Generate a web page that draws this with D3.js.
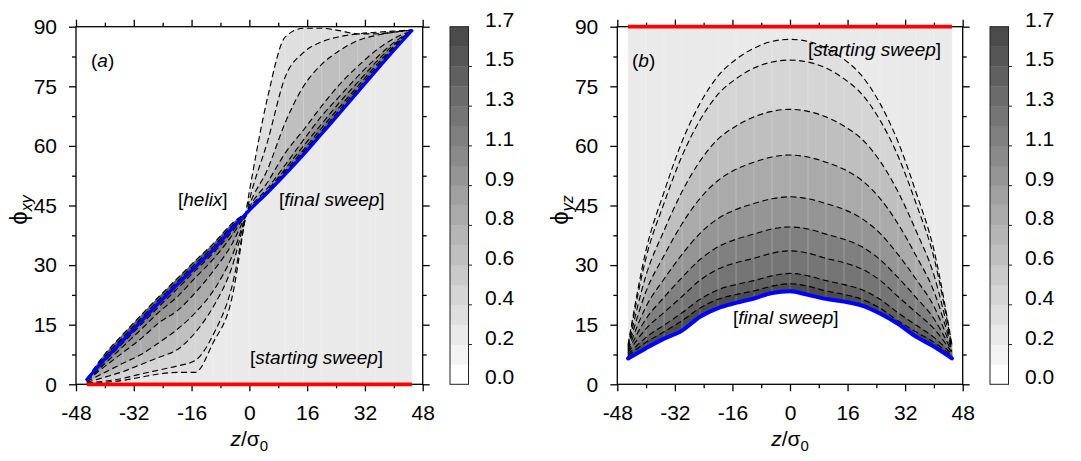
<!DOCTYPE html>
<html><head><meta charset="utf-8">
<script src="https://cdn.jsdelivr.net/npm/d3@7"></script>
<style>
body{margin:0;background:#fff}
svg{display:block}
text{font-family:"Liberation Sans",Arial,Helvetica,sans-serif;fill:#000}
</style>
</head><body>
<svg id="chart" width="1081" height="461"></svg>
<script>
// ---------- data ----------
const zGrid = [-45,-40,-35,-30,-25,-20,-15,-10,-5,0,5,10,15,20,25,30,35,40,45];
const zTicks = [-48,-32,-16,0,16,32,48];
const zMinor = [-40,-24,-8,8,24,40];
const phiTicks = [0,15,30,45,60,75,90];
const phiMinor = [7.5,22.5,37.5,52.5,67.5,82.5];
const cbLabels = ["0.0","0.2","0.4","0.6","0.8","0.9","1.1","1.3","1.5","1.7"];
const cbMax = 1.7;
const cbBands = 18;

// panel (a): phi_xy(z) for each sweep
const aStart = [0,0,0,0,0,0,0,0,0,0,0,0,0,0,0,0,0,0,0];
const aFinal = [1.2,6.3,11.0,15.8,20.5,25.0,29.5,33.8,39.0,43.8,48.2,52.9,57.8,63.0,68.2,73.5,78.8,84.0,89.0];
const aSweep1 = [0.2,0.5,1.0,1.8,2.6,3.0,3.0,10.5,21.0,48.5,72.0,87.5,89.6,89.6,89.0,88.2,88.2,88.6,89.2];
const aSweep2 = [0.3,0.8,1.5,2.6,3.6,4.6,6.0,12.5,24.0,46.3,61.0,77.5,83.5,86.2,87.5,88.2,88.6,88.9,89.2];
const aSweep3 = [0.5,1.8,3.2,5.0,6.8,8.7,13.0,19.5,29.0,45.1,54.0,66.0,75.0,80.5,84.0,86.5,87.8,88.6,89.1];
const aSweep4 = [0.7,3.0,5.3,7.5,10.5,13.8,18.0,23.5,31.8,44.4,50.8,58.3,64.0,70.0,75.5,80.0,84.0,87.0,89.0];
const aSweep5 = [0.9,4.5,8.0,11.5,15.5,18.5,23.0,28.5,35.0,44.1,49.3,55.3,61.5,67.5,72.5,77.5,82.0,86.0,89.0];
const aSweep6 = [1.0,5.2,9.5,13.8,18.2,22.0,26.8,31.5,37.2,44.0,48.8,54.3,60.0,65.5,71.0,76.0,81.0,85.5,89.0];
const aSweep7 = [1.1,5.8,10.4,15.0,19.6,24.0,28.6,33.0,38.2,43.9,48.5,53.7,59.0,64.5,69.8,75.0,80.2,85.0,89.0];
const aSweep8 = [1.4,7.6,12.6,17.4,22.1,26.6,31.1,35.4,40.3,43.9,48.4,53.3,58.5,63.8,69.1,74.4,79.6,84.6,89.0];
const aSweep9 = [1.3,7.0,11.8,16.6,21.3,25.8,30.3,34.6,39.7,43.8,48.3,53.1,58.1,63.3,68.5,73.8,79.1,84.2,89.0];
const aLevels = [0.3,0.42,0.6,0.8,0.98,1.15,1.3,1.45,1.62];
const aBaseLevel = 0.2;

// panel (b): phi_yz(z) for each sweep
const bStart = [90,90,90,90,90,90,90,90,90,90,90,90,90,90,90,90,90,90,90];
const bFinal = [6.5,9.1,11.5,13.5,17.0,19.2,20.5,21.6,23.0,23.4,22.5,21.5,20.8,19.8,17.8,15.2,12.0,9.5,6.5];
const bSweep1 = [10.0,33.8,48.4,61.1,70.7,77.6,81.8,84.6,86.3,86.8,86.3,84.6,81.8,77.6,70.7,61.1,48.4,33.8,10.0];
const bSweep2 = [9.6,31.9,45.6,57.5,66.5,73.0,76.9,79.6,81.1,81.6,81.1,79.6,76.9,73.0,66.5,57.5,45.6,31.9,9.6];
const bSweep3 = [9.3,27.5,38.7,48.5,56.2,61.7,65.0,67.3,68.7,69.2,68.7,67.3,65.0,61.7,56.2,48.5,38.7,27.5,9.3];
const bSweep4 = [9.0,23.4,32.4,40.4,46.8,51.3,54.1,55.9,57.2,57.7,57.2,55.9,54.1,51.3,46.8,40.4,32.4,23.4,9.0];
const bSweep5 = [8.7,19.6,26.5,32.7,38.0,41.7,44.0,45.5,46.7,47.2,46.7,45.5,44.0,41.7,38.0,32.7,26.5,19.6,8.7];
const bSweep6 = [8.3,16.5,21.9,26.9,31.4,34.6,36.5,37.8,39.1,39.6,39.1,37.8,36.5,34.6,31.4,26.9,21.9,16.5,8.3];
const bSweep7 = [8.0,14.0,18.1,22.1,26.2,29.0,30.6,31.7,33.0,33.6,33.0,31.7,30.6,29.0,26.2,22.1,18.1,14.0,8.0];
const bSweep8 = [7.6,11.8,14.9,18.0,21.4,23.8,25.1,26.1,27.3,27.9,27.3,26.1,25.1,23.8,21.4,18.0,14.9,11.8,7.6];
const bSweep9 = [7.2,10.6,13.2,16.0,19.2,21.4,22.6,23.5,24.7,25.3,24.7,23.5,22.6,21.4,19.2,16.0,13.2,10.6,7.2];
const bLevels = [0.3,0.42,0.6,0.8,0.98,1.15,1.3,1.45,1.62];
const bBaseLevel = 0.2;

// ---------- drawing ----------
const svg = d3.select("#chart");
const grays = d3.range(cbBands).map(k => { const g = Math.round(255 - 10.6 * k); return `rgb(${g},${g},${g})`; });
const color = d3.scaleQuantize().domain([0, cbMax]).range(grays);
const FS = 21;

function panel(o) {
  const x = d3.scaleLinear().domain([-48, 48]).range([o.left, o.right]);
  const y = d3.scaleLinear().domain([0, 90]).range([o.bottom, o.top]);
  const g = svg.append("g");
  const idx = zGrid.map((z, i) => i);
  const area = (lo, hi) => d3.area()
    .x(i => x(zGrid[i])).y0(i => y(lo[i])).y1(i => y(hi[i]))
    .curve(d3.curveMonotoneX);
  const line = arr => d3.line().x(i => x(zGrid[i])).y(i => y(arr[i])).curve(d3.curveMonotoneX);

  // base fill between start sweep and final sweep
  g.append("path").attr("d", area(o.start, o.final)(idx))
    .attr("fill", color(o.baseLevel)).attr("stroke", color(o.baseLevel)).attr("stroke-width", 0.5);
  // density fills: each intermediate sweep to the final sweep
  o.sweeps.forEach((s, k) => {
    g.append("path").attr("d", area(o.final, s)(idx))
      .attr("fill", color(o.levels[k])).attr("stroke", color(o.levels[k])).attr("stroke-width", 0.4);
  });
  // faint pm3d column lines inside the filled region
  const clipId = "clip" + o.tag;
  const cp = svg.append("clipPath").attr("id", clipId);
  cp.append("path").attr("d", area(o.start, o.final)(idx));
  o.sweeps.forEach(s => cp.append("path").attr("d", area(o.final, s)(idx)));
  g.append("g").attr("clip-path", `url(#${clipId})`)
    .selectAll("line").data(zGrid.slice(1, -1)).join("line")
    .attr("x1", d => x(d)).attr("x2", d => x(d)).attr("y1", o.top).attr("y2", o.bottom)
    .attr("stroke", "#fff").attr("stroke-opacity", 0.3).attr("stroke-width", 0.8);

  // axes
  const styleAxis = sel => {
    sel.select(".domain").remove();
    sel.selectAll("line").attr("stroke", "#000").attr("stroke-width", 1.3);
    sel.selectAll("text").attr("font-size", FS).attr("font-family", '"Liberation Sans",Arial,sans-serif').attr("fill", "#000");
  };
  const fmt = d => String(d);
  g.append("g").attr("transform", `translate(0,${o.bottom})`)
    .call(d3.axisBottom(x).tickValues(zTicks).tickSize(7).tickPadding(14).tickFormat(fmt)).call(styleAxis);
  g.append("g").attr("transform", `translate(0,${o.bottom})`)
    .call(d3.axisBottom(x).tickValues(zMinor).tickSize(4).tickFormat("")).call(styleAxis);
  g.append("g").attr("transform", `translate(0,${o.top})`)
    .call(d3.axisTop(x).tickValues(zTicks).tickSize(7).tickFormat("")).call(styleAxis);
  g.append("g").attr("transform", `translate(0,${o.top})`)
    .call(d3.axisTop(x).tickValues(zMinor).tickSize(4).tickFormat("")).call(styleAxis);
  g.append("g").attr("transform", `translate(${o.left},0)`)
    .call(d3.axisLeft(y).tickValues(phiTicks).tickSize(7).tickPadding(12).tickFormat(fmt)).call(styleAxis);
  g.append("g").attr("transform", `translate(${o.left},0)`)
    .call(d3.axisLeft(y).tickValues(phiMinor).tickSize(4).tickFormat("")).call(styleAxis);
  g.append("g").attr("transform", `translate(${o.right},0)`)
    .call(d3.axisRight(y).tickValues(phiTicks).tickSize(7).tickFormat("")).call(styleAxis);
  g.append("g").attr("transform", `translate(${o.right},0)`)
    .call(d3.axisRight(y).tickValues(phiMinor).tickSize(4).tickFormat("")).call(styleAxis);
  g.append("rect").attr("x", o.left).attr("y", o.top).attr("width", o.right - o.left).attr("height", o.bottom - o.top)
    .attr("fill", "none").attr("stroke", "#000").attr("stroke-width", 1.3);

  // dashed sweeps
  o.sweeps.forEach(s => {
    g.append("path").attr("d", line(s)(idx)).attr("fill", "none")
      .attr("stroke", "#000").attr("stroke-width", 1.15).attr("stroke-dasharray", "6,3.5");
  });
  // starting sweep (red) and final sweep (blue)
  g.append("path").attr("d", line(o.start)(idx)).attr("fill", "none")
    .attr("stroke", "#ff0000").attr("stroke-width", 3.8);
  g.append("path").attr("d", line(o.final)(idx)).attr("fill", "none")
    .attr("stroke", "#0000ff").attr("stroke-width", o.blueW).attr("stroke-linejoin", "round").attr("stroke-linecap", "round");

  // axis titles
  const xl = g.append("text").attr("x", (o.left + o.right) / 2).attr("y", 446).attr("text-anchor", "middle").attr("font-size", FS);
  xl.append("tspan").attr("font-style", "italic").text("z");
  xl.append("tspan").text("/σ");
  xl.append("tspan").attr("font-size", 15).attr("dy", 5).text("0");
  const yl = g.append("text").attr("transform", `translate(${o.left - 49},210) rotate(-90)`).attr("text-anchor", "middle").attr("font-size", 24);
  yl.append("tspan").text("ϕ");
  yl.append("tspan").attr("font-size", 16).attr("font-style", "italic").attr("dy", 5).text(o.sub);

  // annotations
  o.notes.forEach(n => {
    const t = g.append("text").attr("x", n.x).attr("y", n.y).attr("font-size", 19);
    t.append("tspan").text(n.pre);
    t.append("tspan").attr("font-style", "italic").text(n.it);
    t.append("tspan").text(n.post);
  });

  // colorbar
  const cy = d3.scaleLinear().domain([0, cbMax]).range([o.bottom, o.top]);
  const step = cbMax / cbBands;
  const cb = g.append("g");
  cb.selectAll("rect.band").data(d3.range(cbBands)).join("rect")
    .attr("x", o.cbLeft).attr("width", 18.5)
    .attr("y", k => cy((k + 1) * step)).attr("height", k => cy(k * step) - cy((k + 1) * step) + 0.3)
    .attr("fill", k => grays[k]);
  cb.append("rect").attr("x", o.cbLeft).attr("y", o.top).attr("width", 18.5).attr("height", o.bottom - o.top)
    .attr("fill", "none").attr("stroke", "#222").attr("stroke-width", 1);
  cbLabels.forEach((lab, k) => {
    const v = 2 * k * step;
    if (k > 0 && k < cbLabels.length - 1) {
      cb.append("line").attr("x1", o.cbLeft + 18.5).attr("x2", o.cbLeft + 22).attr("y1", cy(v)).attr("y2", cy(v))
        .attr("stroke", "#222").attr("stroke-width", 1);
    }
    cb.append("text").attr("x", o.cbLeft + 35).attr("y", cy(v)).attr("font-size", FS).text(lab);
  });
}

panel({
  tag: "a", left: 76, right: 422.7, top: 26.7, bottom: 384.3, cbLeft: 450, blueW: 3.2, sub: "xy",
  start: aStart, final: aFinal,
  sweeps: [aSweep1, aSweep2, aSweep3, aSweep4, aSweep5, aSweep6, aSweep7, aSweep8, aSweep9],
  levels: aLevels, baseLevel: aBaseLevel,
  notes: [
    {x: 91, y: 67, pre: "(", it: "a", post: ")"},
    {x: 178, y: 206, pre: "[", it: "helix", post: "]"},
    {x: 279, y: 206, pre: "[", it: "final sweep", post: "]"},
    {x: 250, y: 364, pre: "[", it: "starting sweep", post: "]"}
  ]
});
panel({
  tag: "b", left: 617.3, right: 962.7, top: 26.7, bottom: 384.3, cbLeft: 990, blueW: 4, sub: "yz",
  start: bStart, final: bFinal,
  sweeps: [bSweep1, bSweep2, bSweep3, bSweep4, bSweep5, bSweep6, bSweep7, bSweep8, bSweep9],
  levels: bLevels, baseLevel: bBaseLevel,
  notes: [
    {x: 632, y: 67, pre: "(", it: "b", post: ")"},
    {x: 808, y: 56, pre: "[", it: "starting sweep", post: "]"},
    {x: 733, y: 324, pre: "[", it: "final sweep", post: "]"}
  ]
});
</script>
</body></html>
